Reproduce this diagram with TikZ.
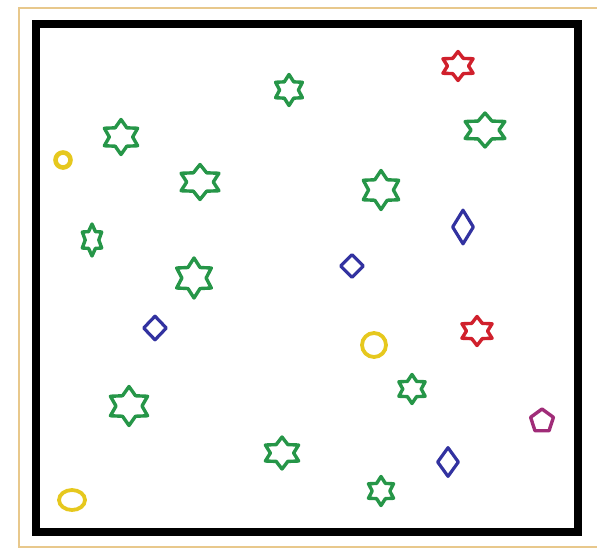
\documentclass[tikz,border=0pt]{standalone}
\usepackage{xcolor}
\usepackage{tikz}
\usetikzlibrary{shapes.geometric}

\definecolor{sgreen}{RGB}{38,150,72}
\definecolor{sred}{RGB}{208,32,44}
\definecolor{sblue}{RGB}{50,50,160}
\definecolor{syellow}{RGB}{230,200,30}
\definecolor{spurple}{RGB}{160,44,120}
\definecolor{frametan}{RGB}{232,200,140}

\begin{document}
\begin{tikzpicture}[
    x=0.5pt, y=-0.5pt,
    gstar/.style={star, star points=6, star point ratio=1.65, draw=sgreen, line width=1.7pt, line join=round, inner sep=0pt},
    rstar/.style={gstar, draw=sred},
    gem/.style={diamond, draw=sblue, line width=1.6pt, line join=round, inner sep=0pt},
    ring/.style={ellipse, draw=syellow, line width=1.9pt, inner sep=0pt},
    pent/.style={regular polygon, regular polygon sides=5, draw=spurple, line width=1.7pt, line join=round, inner sep=0pt}
]
    \useasboundingbox (0,0) rectangle (597,552);

    % Outer thin frame and the thick box
    \draw[frametan, line width=1pt] (600,8) -- (19,8) -- (19,547) -- (600,547);
    \draw[line width=4pt] (35.5,24) rectangle (577.5,532);

    % Green stars
    \node[gstar, minimum size=15.5pt] (g1) at (289,90) {};
    \node[gstar, minimum size=17.5pt, xscale=1.1] (g2) at (121,137) {};
    \node[gstar, minimum size=17.5pt, xscale=1.25] (g3) at (200,182) {};
    \node[gstar, minimum size=16pt, xscale=0.7] (g4) at (92,240) {};
    \node[gstar, minimum size=20pt] (g5) at (194,278) {};
    \node[gstar, minimum size=17pt, xscale=1.35] (g6) at (485,130) {};
    \node[gstar, minimum size=19.5pt, xscale=1.05] (g7) at (381,190) {};
    \node[gstar, minimum size=19.5pt, xscale=1.1] (g8) at (129,406) {};
    \node[gstar, minimum size=16pt, xscale=1.2] (g9) at (282,453) {};
    \node[gstar, minimum size=14.5pt, xscale=1.05] (g10) at (412,389) {};
    \node[gstar, minimum size=14.5pt] (g11) at (381,491) {};

    % Red stars
    \node[rstar, minimum size=14.5pt, xscale=1.2] (r1) at (458,66) {};
    \node[rstar, minimum size=14.5pt, xscale=1.2] (r2) at (477,331) {};

    % Blue diamonds
    \node[gem, minimum width=11pt, minimum height=17.5pt] (b1) at (463,227) {};
    \node[gem, minimum width=12pt, minimum height=12pt] (b2) at (352,266) {};
    \node[gem, minimum width=12pt, minimum height=12.5pt] (b3) at (155,328) {};
    \node[gem, minimum width=11pt, minimum height=15pt] (b4) at (448,462) {};

    % Yellow rings
    \node[ring, line width=2.3pt, minimum width=7.5pt, minimum height=7.5pt] (y1) at (63,160) {};
    \node[ring, minimum width=12pt, minimum height=12pt] (y2) at (374,345) {};
    \node[ring, minimum width=13pt, minimum height=10pt] (y3) at (72,500) {};

    % Purple pentagon
    \node[pent, minimum size=12pt] (p1) at (542,421) {};
\end{tikzpicture}
\end{document}
